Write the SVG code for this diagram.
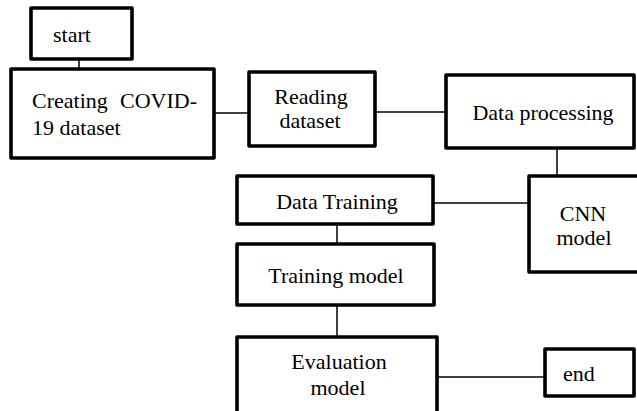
<svg xmlns="http://www.w3.org/2000/svg" width="637" height="411" viewBox="0 0 637 411">
  <style>
    .box { fill: #ffffff; stroke: #000000; stroke-width: 3.6; stroke-linejoin: round; }
    .link { stroke: #000000; stroke-width: 1.5; fill: none; }
    .mid { text-anchor: middle; }
  </style>
  <rect width="637" height="411" fill="#ffffff"/>

  <!-- connectors -->
  <g id="connectors">
    <line class="link" x1="79" y1="59" x2="79" y2="69"/>
    <line class="link" x1="214" y1="113" x2="249" y2="113"/>
    <line class="link" x1="375" y1="112" x2="446" y2="112"/>
    <line class="link" x1="557" y1="148" x2="557" y2="176"/>
    <line class="link" x1="433" y1="203" x2="529" y2="203"/>
    <line class="link" x1="337" y1="224" x2="337" y2="244"/>
    <line class="link" x1="337" y1="305" x2="337" y2="337"/>
    <line class="link" x1="437" y1="377" x2="545" y2="377"/>
  </g>

  <g font-family="Liberation Serif, serif" font-size="22" fill="#000000">
    <g id="start">
      <rect class="box" x="31" y="8" width="101" height="51"/>
      <text x="53" y="42">start</text>
    </g>

    <g id="create-dataset">
      <rect class="box" x="11" y="69" width="203" height="89"/>
      <text y="108"><tspan x="32">Creating</tspan><tspan x="120">COVID-</tspan></text>
      <text x="32" y="135">19 dataset</text>
    </g>

    <g id="read-dataset">
      <rect class="box" x="249" y="72" width="126" height="74"/>
      <text class="mid" x="311" y="104">Reading</text>
      <text class="mid" x="310" y="128">dataset</text>
    </g>

    <g id="data-processing">
      <rect class="box" x="446" y="75" width="188" height="73"/>
      <text class="mid" x="543" y="120">Data processing</text>
    </g>

    <g id="cnn-model">
      <rect class="box" x="529" y="176" width="120" height="96"/>
      <text class="mid" x="583" y="221">CNN</text>
      <text class="mid" x="584" y="245">model</text>
    </g>

    <g id="data-training">
      <rect class="box" x="237" y="176" width="196" height="48"/>
      <text class="mid" x="337" y="209">Data Training</text>
    </g>

    <g id="training-model">
      <rect class="box" x="237" y="244" width="197" height="61"/>
      <text class="mid" x="336" y="283">Training model</text>
    </g>

    <g id="evaluation-model">
      <rect class="box" x="237" y="337" width="200" height="90"/>
      <text class="mid" x="339" y="369">Evaluation</text>
      <text class="mid" x="338" y="395">model</text>
    </g>

    <g id="end">
      <rect class="box" x="545" y="349" width="89" height="47"/>
      <text x="563" y="381">end</text>
    </g>
  </g>
</svg>
